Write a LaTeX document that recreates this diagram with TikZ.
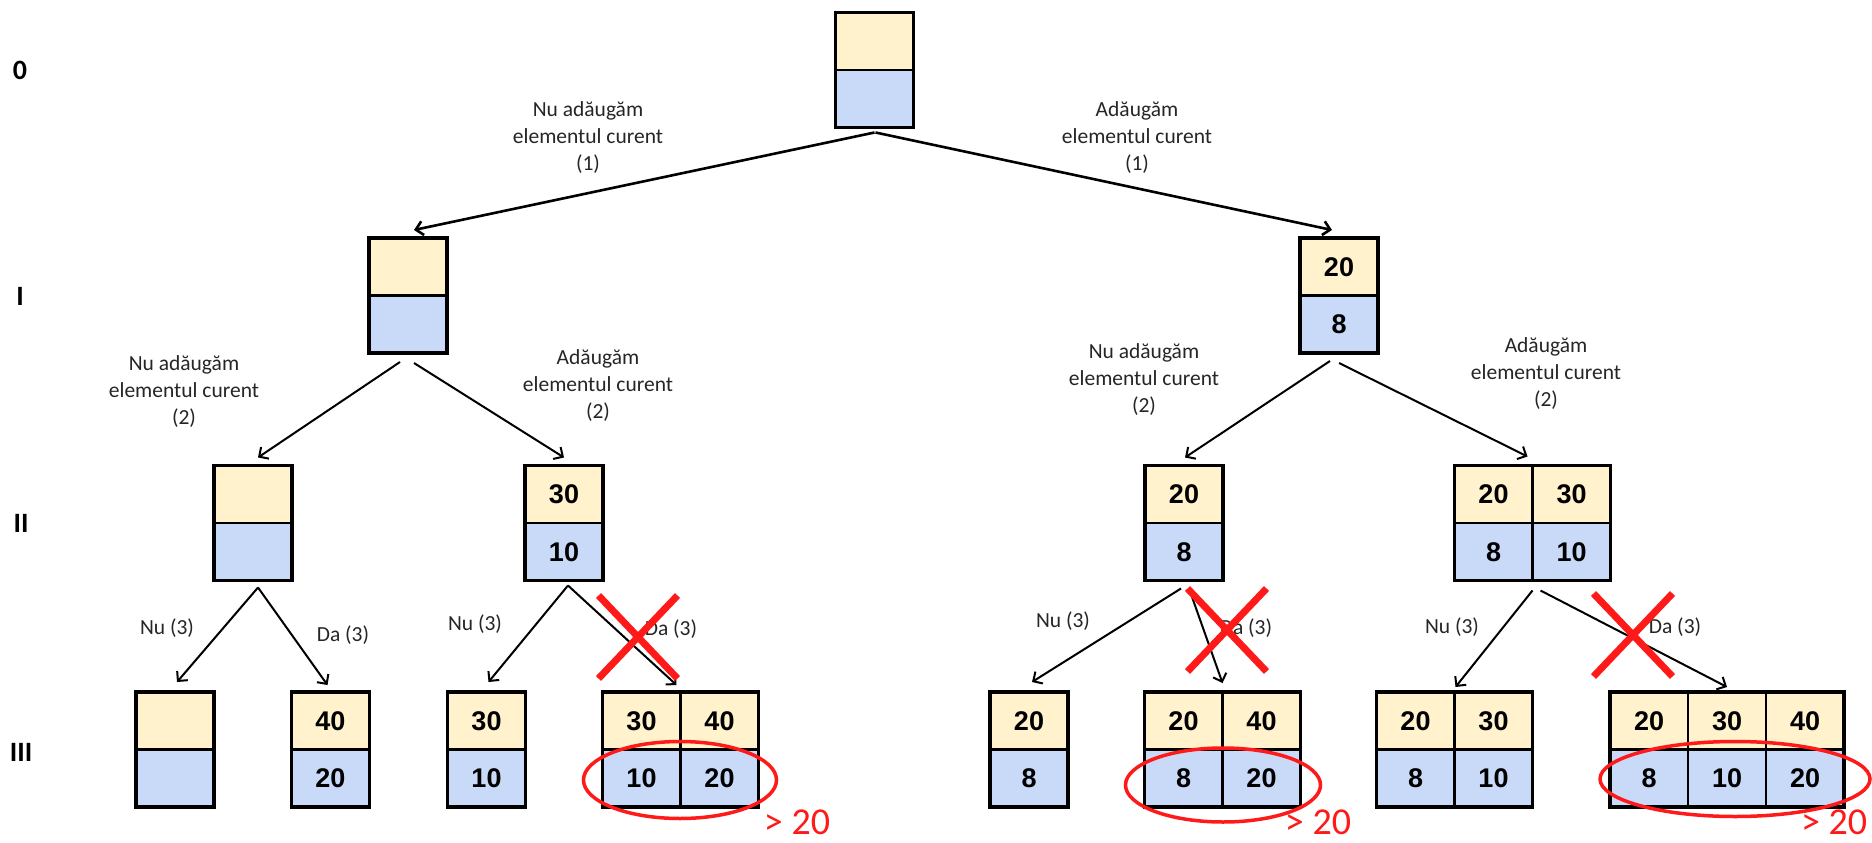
\documentclass[tikz,border=0pt]{standalone}
\usepackage{fontspec}
\setmainfont{Carlito}
\newfontfamily\numfam{Liberation Sans}
\usetikzlibrary{calc,arrows.meta,shapes.geometric,shapes.misc}
\definecolor{topc}{HTML}{FFF2CC}
\definecolor{botc}{HTML}{C9DAF8}
\definecolor{redc}{HTML}{FF1A1A}
\definecolor{labc}{HTML}{262626}
\newcommand{\treebox}[4]{%
  \node[minimum width=#2*78pt, minimum height=115pt, inner sep=0pt, outer sep=0pt] (#1) at #3 {};
  \foreach \t/\b [count=\i from 0] in {#4} {
    \node[cell, fill=topc, anchor=north west] at ($(#1.north west)+(\i*78,0)$) {\t};
    \node[cell, fill=botc, anchor=north west] at ($(#1.north west)+(\i*78,57.5)$) {\b};
  }
  \draw[boxframe] (#1.north west) rectangle (#1.south east);
}
\begin{document}
\begin{tikzpicture}[x=1pt,y=-1pt,
  cell/.style={draw=black, line width=2.2pt, minimum width=78pt, minimum height=57.5pt, inner sep=0pt, outer sep=0pt, font=\numfam\bfseries\fontsize{27}{30}\selectfont},
  boxframe/.style={draw=black, line width=3.5pt},
  lbl/.style={align=center, text=labc, font=\fontsize{21.5}{27}\selectfont, inner sep=0pt},
  smalllbl/.style={text=labc, font=\fontsize{21.5}{26}\selectfont, inner sep=0pt},
  lvl/.style={font=\bfseries\fontsize{28}{32}\selectfont, inner sep=0pt},
  arr/.style={-{Straight Barb[length=7pt,width=14pt]}, line width=2pt, draw=black},
  arrbig/.style={arr, line width=2.6pt},
  redx/.style={cross out, draw=redc, line width=7pt, minimum width=72pt, minimum height=76pt, inner sep=0pt},
  oval/.style={ellipse, draw=redc, line width=3.5pt, inner sep=0pt},
  gt/.style={text=redc, font=\fontsize{38}{42}\selectfont, inner sep=0pt}
]
\useasboundingbox (0,0) rectangle (1872,843);
\fill[white] (0,0) rectangle (1872,843);

% level labels
\node[lvl] (l0) at (20,70) {0};
\node[lvl] (l1) at (20,296) {I};
\node[lvl] (l2) at (21,523) {II};
\node[lvl] (l3) at (21,752) {III};

% boxes
\treebox{r}{1}{(874.5,70)}{~/~}
\treebox{a}{1}{(408,295.5)}{~/~}
\treebox{b}{1}{(1339,295.5)}{20/8}
\treebox{aa}{1}{(253,523)}{~/~}
\treebox{ab}{1}{(564,523)}{30/10}
\treebox{ba}{1}{(1184,523)}{20/8}
\treebox{bb}{2}{(1532.5,523)}{20/8,30/10}
\treebox{aaa}{1}{(175,749.5)}{~/~}
\treebox{aab}{1}{(330.5,749.5)}{40/20}
\treebox{aba}{1}{(486.5,749.5)}{30/10}
\treebox{abb}{2}{(680.5,749.5)}{30/10,40/20}
\treebox{baa}{1}{(1029,749.5)}{20/8}
\treebox{bab}{2}{(1222.5,749.5)}{20/8,40/20}
\treebox{bba}{2}{(1454.5,749.5)}{20/8,30/10}
\treebox{bbb}{3}{(1727,749.5)}{20/8,30/10,40/20}

% connectors
\draw[arrbig] ($(r.south)+(0,5)$) -- ($(a.north)+(6,-8)$);
\draw[arrbig] ($(r.south)+(1,5)$) -- ($(b.north)+(-7,-8)$);
\draw[arr] ($(a.south)+(-8,9)$) -- ($(aa.north)+(5,-8)$);
\draw[arr] ($(a.south)+(6,10)$) -- ($(ab.north)+(0,-8)$);
\draw[arr] ($(b.south)+(-9,8)$) -- ($(ba.north)+(1,-8)$);
\draw[arr] ($(b.south)+(0,10)$) -- ($(bb.north)+(-5,-9)$);
\draw[arr] ($(aa.south)+(5,7)$) -- ($(aaa.north)+(2,-10)$);
\draw[arr] ($(aa.south)+(5,7)$) -- ($(aab.north)+(-3,-7)$);
\draw[arr] ($(ab.south)+(4,5)$) -- ($(aba.north)+(2,-10)$);
\draw[arr] ($(ab.south)+(4,5)$) -- ($(abb.north)+(-4,-7)$);
\draw[arr] ($(ba.south)+(-3,8)$) -- ($(baa.north)+(3,-10)$);
\draw[arr] ($(ba.south)+(5,8)$) -- ($(bab.north)+(0,-9)$);
\draw[arr] ($(bb.south)+(0,10)$) -- ($(bba.north)+(1,-5)$);
\draw[arr] ($(bb.south)+(8,10)$) -- ($(bbb.north)+(0,-5)$);

% labels
\node[lbl] (t1) at (588,138) {Nu adăugăm\\elementul curent\\(1)};
\node[lbl] (t2) at (1137,138) {Adăugăm\\elementul curent\\(1)};
\node[lbl] (t3) at (184,392) {Nu adăugăm\\elementul curent\\(2)};
\node[lbl] (t4) at (598,386) {Adăugăm\\elementul curent\\(2)};
\node[lbl] (t5) at (1144,380) {Nu adăugăm\\elementul curent\\(2)};
\node[lbl] (t6) at (1546,374) {Adăugăm\\elementul curent\\(2)};

\node[smalllbl] (n1) at (167,628) {Nu (3)};
\node[smalllbl] (d1) at (343,635) {Da (3)};
\node[smalllbl] (n2) at (475,624) {Nu (3)};
\node[smalllbl] (d2) at (671,629) {Da (3)};
\node[smalllbl] (n3) at (1063,621) {Nu (3)};
\node[smalllbl] (d3) at (1246,628) {Da (3)};
\node[smalllbl] (n4) at (1452,627) {Nu (3)};
\node[smalllbl] (d4) at (1675,627) {Da (3)};

% red marks
\node[redx] (x1) at (638,637) {};
\node[redx] (x2) at (1227,630) {};
\node[redx] (x3) at (1633,635) {};

\node[oval, minimum width=193pt, minimum height=77pt] (e1) at (680,780) {};
\node[oval, minimum width=195pt, minimum height=74pt] (e2) at (1223,785) {};
\node[oval, minimum width=270pt, minimum height=75pt] (e3) at (1735,779) {};

\node[gt] (g1) at (797,822) {> 20};
\node[gt] (g2) at (1318,822) {> 20};
\node[gt] (g3) at (1834,822) {> 20};
\end{tikzpicture}
\end{document}
